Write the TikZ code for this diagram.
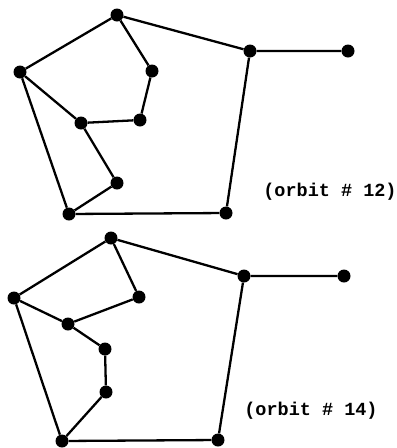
\documentclass[tikz,border=0pt]{standalone}
\usepackage{fontspec}
\newfontfamily\lblfont{Liberation Mono}
\begin{document}
\begin{tikzpicture}[x=1pt,y=-1pt,
  dot/.style={circle,fill=black,inner sep=0pt,minimum size=13pt},
  edge/.style={line width=2.3pt},
  lbl/.style={font=\lblfont\bfseries\fontsize{18.5}{20}\selectfont,inner sep=0pt}]
\useasboundingbox (0,0) rectangle (397,448);
% top graph
\node[dot] (a1) at (117,15) {};
\node[dot] (b1) at (250,51) {};
\node[dot] (c1) at (348,51) {};
\node[dot] (d1) at (20,72) {};
\node[dot] (e1) at (152,71) {};
\node[dot] (f1) at (81,123) {};
\node[dot] (g1) at (140,120) {};
\node[dot] (h1) at (117,183) {};
\node[dot] (i1) at (69,214) {};
\node[dot] (j1) at (226,213) {};
\draw[edge] (a1)--(b1) (b1)--(c1) (a1)--(d1) (a1)--(e1) (e1)--(g1) (g1)--(f1)
  (d1)--(f1) (f1)--(h1) (h1)--(i1) (d1)--(i1) (i1)--(j1) (j1)--(b1);
\node[lbl] (t1) at (330,192) {(orbit \# 12)};
% bottom graph
\node[dot] (a2) at (111,238) {};
\node[dot] (b2) at (244,276) {};
\node[dot] (c2) at (344,276) {};
\node[dot] (d2) at (14,298) {};
\node[dot] (e2) at (139,297) {};
\node[dot] (f2) at (68,324) {};
\node[dot] (g2) at (105,349) {};
\node[dot] (h2) at (106,392) {};
\node[dot] (i2) at (62,441) {};
\node[dot] (j2) at (218,440) {};
\draw[edge] (a2)--(b2) (b2)--(c2) (a2)--(d2) (a2)--(e2) (e2)--(f2) (d2)--(f2)
  (f2)--(g2) (g2)--(h2) (h2)--(i2) (d2)--(i2) (i2)--(j2) (j2)--(b2);
\node[lbl] (t2) at (311,411) {(orbit \# 14)};
\end{tikzpicture}
\end{document}
